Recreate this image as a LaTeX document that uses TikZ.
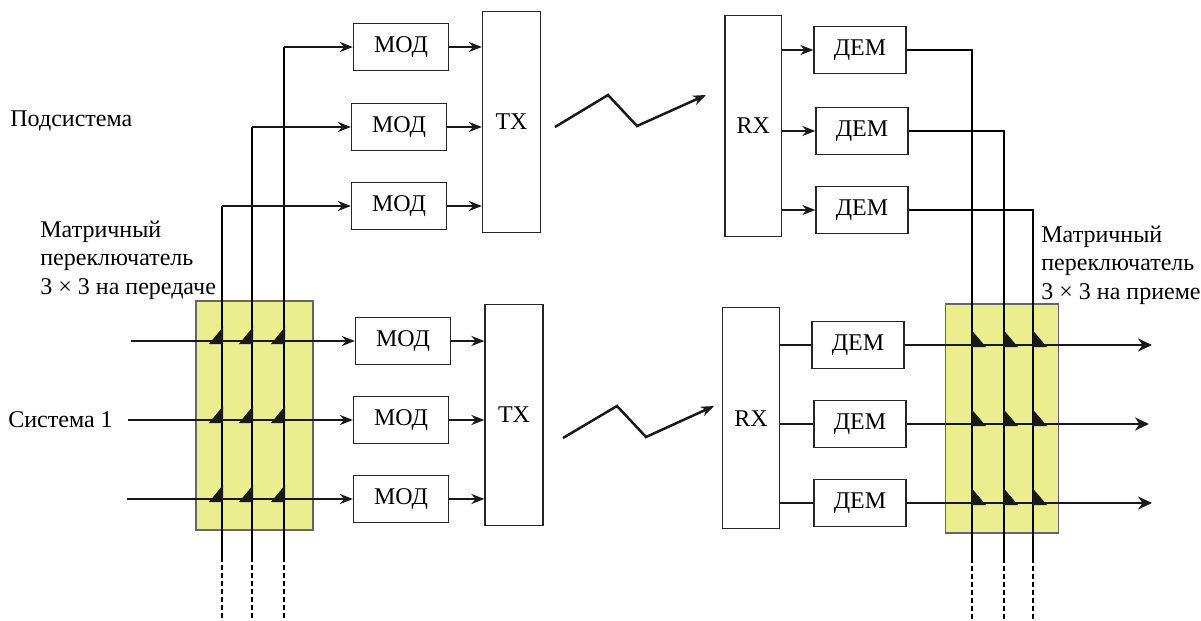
\documentclass[tikz,border=0pt]{standalone}
\usepackage{fontspec}
\setmainfont{Liberation Serif}
\usetikzlibrary{arrows.meta}
\definecolor{swfill}{RGB}{235,238,143}

\begin{document}
\begin{tikzpicture}[x=0.5pt,y=-0.5pt,line join=miter,>={Stealth[length=6.5pt,width=5pt]},
  every node/.style={font=\fontsize{12}{14.2}\selectfont,inner sep=0pt},
  blk/.style={draw=black!85,line width=0.6pt,minimum width=47.5pt,minimum height=23.6pt},
  unit/.style={draw=black!85,line width=0.6pt,minimum width=29pt,minimum height=110.5pt},
  swbox/.style={draw=black!60,fill=swfill,line width=0.6pt,minimum height=114.5pt},
  sig/.style={line width=1.25pt,black!90},
  bus/.style={line width=0.6pt},
  stub/.style={line width=1.1pt,dash pattern=on 2.4pt off 1.6pt}]
  \useasboundingbox (0,0) rectangle (1201,621);
  % switch matrices
  \node[swbox,minimum width=58.5pt] (swl) at (254.5,415.5) {};
  \node[swbox,minimum width=56.2pt] (swr) at (1002,418.5) {};
  % transmit side
  \node[blk] (mod1) at (401,47) {МОД};
  \node[blk] (mod2) at (399,127) {МОД};
  \node[blk] (mod3) at (399,206) {МОД};
  \node[blk] (mod4) at (403,341) {МОД};
  \node[blk] (mod5) at (401,420) {МОД};
  \node[blk] (mod6) at (401,499) {МОД};
  \node[unit] (tx1) at (511.5,122) {TX};
  \node[unit] (tx2) at (514,415) {TX};
  % receive side
  \node[unit,minimum width=28.3pt] (rx1) at (753.3,126) {RX};
  \node[unit,minimum width=28.3pt] (rx2) at (751,418.3) {RX};
  \node[blk,minimum width=46pt] (dem1) at (860,50) {ДЕМ};
  \node[blk,minimum width=46pt] (dem2) at (862,131) {ДЕМ};
  \node[blk,minimum width=46pt] (dem3) at (862,210) {ДЕМ};
  \node[blk,minimum width=46pt] (dem4) at (858,345) {ДЕМ};
  \node[blk,minimum width=46pt] (dem5) at (860,424) {ДЕМ};
  \node[blk,minimum width=46pt] (dem6) at (860,503) {ДЕМ};
  % labels
  \node[anchor=west] (sub) at (10,121) {Подсистема};
  \node[anchor=west] (sys) at (8,420) {Система 1};
  \node[anchor=west,align=left] (txsw) at (40,260) {Матричный\\переключатель\\3 × 3 на передаче};
  \node[anchor=west,align=left] (rxsw) at (1041,265) {Матричный\\переключатель\\3 × 3 на приеме};
  % free ends
  \coordinate (lv1) at (222,557);
  \coordinate (lv2) at (252,557);
  \coordinate (lv3) at (284,557);
  \coordinate (rv1) at (972,558);
  \coordinate (rv2) at (1004,558);
  \coordinate (rv3) at (1033,558);
  \coordinate (in4) at (131,341);
  \coordinate (in5) at (128,420);
  \coordinate (in6) at (127,499);
  \coordinate (out4) at (1152,345);
  \coordinate (out5) at (1149,424);
  \coordinate (out6) at (1152,503);
  % transmit switch columns
  \draw[bus] (lv1) -- (lv1 |- mod3.west);
  \draw[bus,line width=1.1pt] (lv2) -- (lv2 |- mod2.west);
  \draw[bus] (lv3) -- (lv3 |- mod1.west);
  \draw[sig,->] (lv1 |- mod3.west) -- (mod3.west);
  \draw[sig,->] (lv2 |- mod2.west) -- (mod2.west);
  \draw[sig,->] (lv3 |- mod1.west) -- (mod1.west);
  \draw[stub] (lv1) -- ++(0,61);
  \draw[stub] (lv2) -- ++(0,61);
  \draw[stub] (lv3) -- ++(0,61);
  \draw[sig,->] (in4) -- (mod4.west);
  \draw[sig,->] (in5) -- (mod5.west);
  \draw[sig,->] (in6) -- (mod6.west);
  \draw[sig,->] (mod1.east) -- (mod1.east -| tx1.west);
  \draw[sig,->] (mod2.east) -- (mod2.east -| tx1.west);
  \draw[sig,->] (mod3.east) -- (mod3.east -| tx1.west);
  \draw[sig,->] (mod4.east) -- (mod4.east -| tx2.west);
  \draw[sig,->] (mod5.east) -- (mod5.east -| tx2.west);
  \draw[sig,->] (mod6.east) -- (mod6.east -| tx2.west);
  % radio links
  \coordinate (za1) at (555,127);
  \coordinate (za2) at (608,95);
  \coordinate (za3) at (637,126);
  \coordinate (za4) at (706,95);
  \coordinate (zb1) at (563,438);
  \coordinate (zb2) at (617,406);
  \coordinate (zb3) at (646,437);
  \coordinate (zb4) at (714,406);
  \draw[sig,->] (za1) -- (za2) -- (za3) -- (za4);
  \draw[sig,->] (zb1) -- (zb2) -- (zb3) -- (zb4);
  % receive side
  \draw[sig,->] (rx1.east |- dem1.west) -- (dem1.west);
  \draw[sig,->] (rx1.east |- dem2.west) -- (dem2.west);
  \draw[sig,->] (rx1.east |- dem3.west) -- (dem3.west);
  \draw[sig] (rx2.east |- dem4.west) -- (dem4.west);
  \draw[sig] (rx2.east |- dem5.west) -- (dem5.west);
  \draw[sig] (rx2.east |- dem6.west) -- (dem6.west);
  \draw[line width=0.8pt] (dem1.east) -| (rv1);
  \draw[line width=0.8pt] (dem2.east) -| (rv2);
  \draw[line width=0.8pt] (dem3.east) -| (rv3);
  \draw[stub] (rv1) -- ++(0,63);
  \draw[stub] (rv2) -- ++(0,63);
  \draw[stub] (rv3) -- ++(0,63);
  \draw[sig,-{Stealth[length=7pt,width=6.5pt]}] (dem4.east) -- (out4);
  \draw[sig,-{Stealth[length=7pt,width=6.5pt]}] (dem5.east) -- (out5);
  \draw[sig,-{Stealth[length=7pt,width=6.5pt]}] (dem6.east) -- (out6);
  % crosspoints
  \foreach \vx in {222,252,284} \foreach \hy in {341,420,499}
    \fill[black!90] ({\vx-13},{\hy+3}) -- ({\vx+1},{\hy+3}) -- ({\vx+1},{\hy-14}) -- cycle;
  \foreach \vx in {972,1004,1033} \foreach \hy in {345,424,503}
    \fill[black!90] ({\vx-0.5},{\hy-15}) -- ({\vx-0.5},{\hy+2}) -- ({\vx+14},{\hy+2}) -- cycle;
\end{tikzpicture}
\end{document}
